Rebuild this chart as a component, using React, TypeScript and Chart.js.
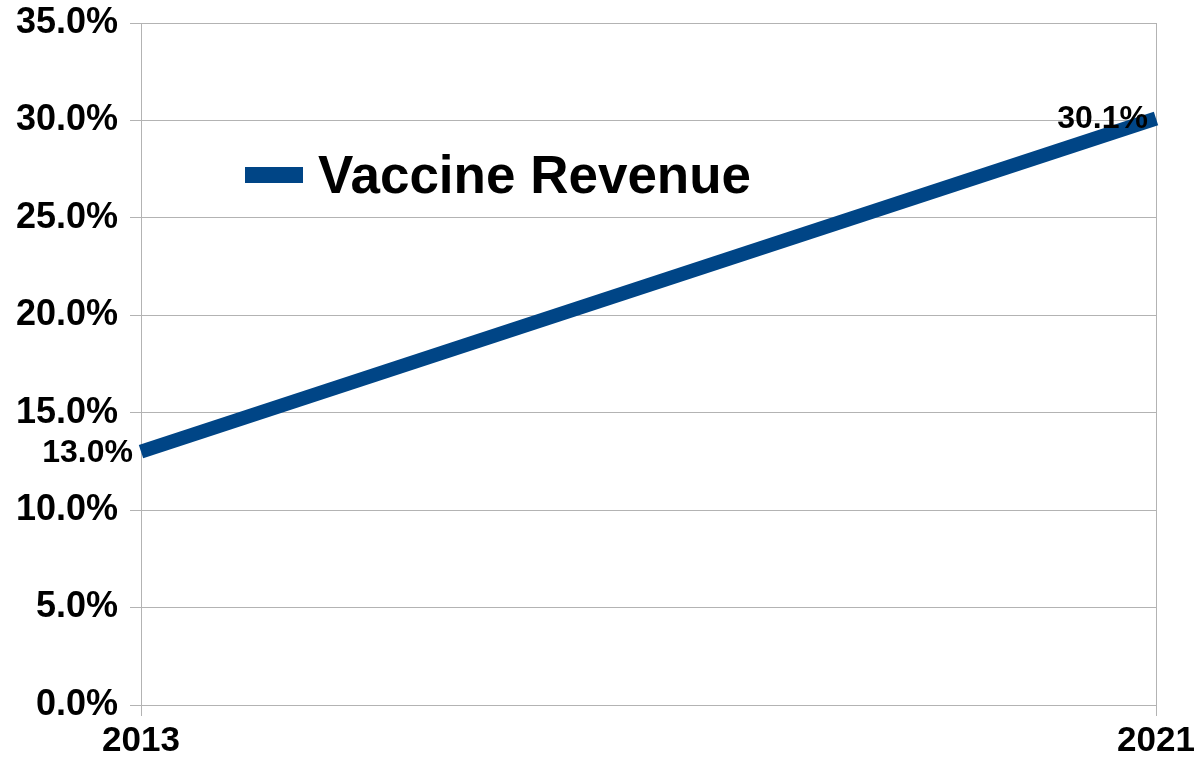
import React, { useEffect, useRef } from "react";
import { Chart, registerables } from "chart.js";

Chart.register(...registerables);

const categories: string[] = ["2013", "2021"];
const vaccineRevenue: number[] = [13.0, 30.1];
const seriesName = "Vaccine Revenue";
const yMin = 0;
const yMax = 35;
const yStep = 5;

const LINE_COLOR = "#004586";
const FONT = "'Liberation Sans', Arial, sans-serif";

const dataLabelPlugin = {
  id: "dataLabels",
  afterDatasetsDraw(chart: any) {
    const ctx = chart.ctx;
    const meta = chart.getDatasetMeta(0);
    ctx.save();
    ctx.font = `bold 32px ${FONT}`;
    ctx.fillStyle = "#000000";
    ctx.textAlign = "right";
    ctx.textBaseline = "middle";
    meta.data.forEach((pt: any, i: number) => {
      const v = chart.data.datasets[0].data[i];
      ctx.fillText(`${v.toFixed(1)}%`, pt.x - 8, pt.y + 1);
    });
    ctx.restore();
  },
};

const legendPlugin = {
  id: "insideLegend",
  afterDraw(chart: any) {
    const ctx = chart.ctx;
    ctx.save();
    ctx.fillStyle = LINE_COLOR;
    ctx.fillRect(245, 167, 58, 16);
    ctx.font = `bold 53px ${FONT}`;
    ctx.fillStyle = "#000000";
    ctx.textAlign = "left";
    ctx.textBaseline = "alphabetic";
    ctx.fillText(chart.data.datasets[0].label, 318, 193);
    ctx.restore();
  },
};

export default function App() {
  const ref = useRef<HTMLCanvasElement | null>(null);

  useEffect(() => {
    if (!ref.current) return;
    const chart = new Chart(ref.current, {
      type: "line",
      data: {
        labels: categories,
        datasets: [
          {
            label: seriesName,
            data: vaccineRevenue,
            borderColor: LINE_COLOR,
            backgroundColor: LINE_COLOR,
            borderWidth: 14,
            borderCapStyle: "butt",
            pointRadius: 0,
            tension: 0,
            clip: false as any,
          },
        ],
      },
      options: {
        responsive: false,
        animation: false,
        maintainAspectRatio: false,
        layout: { padding: { left: 0, top: 23, right: 44, bottom: 0 } },
        plugins: {
          legend: { display: false },
          tooltip: { enabled: false },
          title: { display: false },
        },
        scales: {
          x: {
            type: "category",
            offset: false,
            grid: {
              color: "#b3b3b3",
              lineWidth: 1,
              tickLength: 11,
              drawTicks: true,
            },
            border: { color: "#b3b3b3", width: 1 },
            ticks: {
              color: "#000000",
              font: { family: FONT, size: 35, weight: "bold" },
              padding: 4,
              maxRotation: 0,
              autoSkip: false,
            },
            afterFit(scale: any) {
              scale.height = 57;
              scale.paddingLeft = 0;
              scale.paddingRight = 0;
            },
          },
          y: {
            min: yMin,
            max: yMax,
            grid: {
              color: "#b3b3b3",
              lineWidth: 1,
              tickLength: 11,
              drawTicks: true,
            },
            border: { color: "#b3b3b3", width: 1 },
            ticks: {
              stepSize: yStep,
              color: "#000000",
              font: { family: FONT, size: 36, weight: "bold" },
              padding: 12,
              callback: (v: any) => `${Number(v).toFixed(1)}%`,
            },
            afterFit(scale: any) {
              scale.width = 141;
              scale.paddingTop = 0;
              scale.paddingBottom = 0;
            },
          },
        },
      },
      plugins: [dataLabelPlugin, legendPlugin],
    });
    return () => chart.destroy();
  }, []);

  return (
    <div style={{ position: "fixed", left: 0, top: 0, width: 1200, height: 762, background: "#ffffff" }}>
      <canvas ref={ref} width={1200} height={762} style={{ display: "block", width: 1200, height: 762 }} />
    </div>
  );
}
